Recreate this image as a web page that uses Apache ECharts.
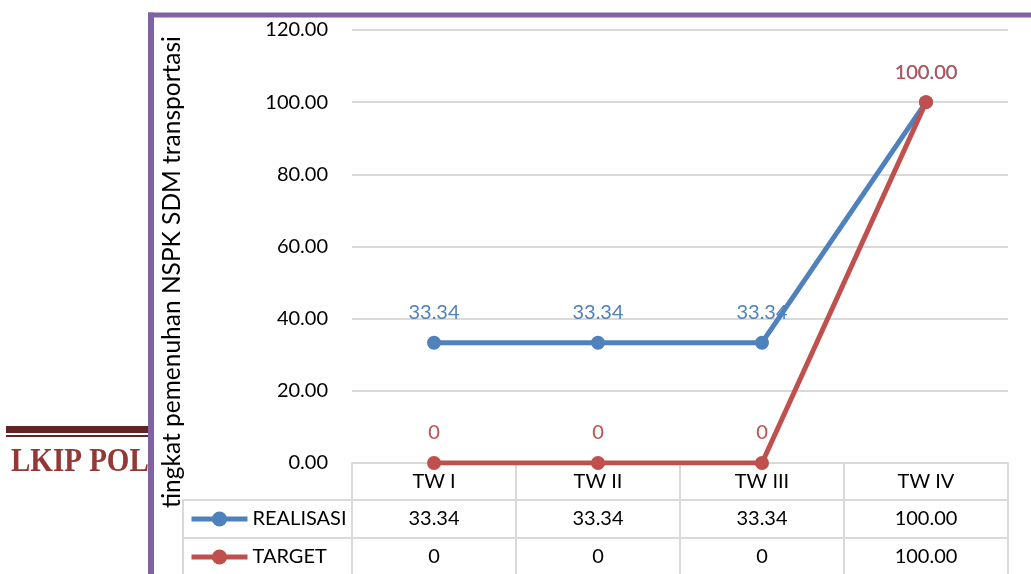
<!DOCTYPE html>
<html>
<head>
    <meta charset="UTF-8">
    <title>NSPK SDM transportasi</title>
    <script src="https://cdn.jsdelivr.net/npm/echarts@6/dist/echarts.min.js"></script>
    <style>
        html, body { margin: 0; padding: 0; background: #fff; }
    </style>
</head>
<body>
<div id="chart" style="width:1031px; height:574px;"></div>
<script>
    // data
    var categories = ['TW I', 'TW II', 'TW III', 'TW IV'];
    var realisasi = [33.34, 33.34, 33.34, 100];
    var target = [0, 0, 0, 100];
    var seriesNames = ['REALISASI', 'TARGET'];
    var yTicks = {min: 0, max: 120, interval: 20};

    var blue = '#4f81bd', red = '#c0504d', gridColor = '#d9d9d9';
    var font = 'Lato';

    function fmt(v) {
        return v === 0 ? '0' : v.toFixed(2);
    }

    var chart = echarts.init(document.getElementById('chart'), null, {renderer: 'canvas'});

    // one x axis per table row: header, realisasi, target
    function rowAxis(offset, formatter) {
        return {
            type: 'category',
            data: categories,
            position: 'bottom',
            offset: offset,
            boundaryGap: true,
            axisLine: {show: true, lineStyle: {color: gridColor, width: 2}},
            axisTick: {show: true, length: 37, interval: 0, lineStyle: {color: gridColor, width: 2}},
            axisLabel: {
                interval: 0, margin: 9, color: '#000', fontFamily: font, fontSize: 20,
                formatter: formatter
            },
            splitLine: {show: false}
        };
    }

    function lineSeries(name, data, color) {
        return {
            name: name,
            type: 'line',
            data: data,
            symbol: 'circle',
            symbolSize: 14,
            lineStyle: {color: color, width: 5},
            itemStyle: {color: color},
            label: {
                show: true, position: 'top', distance: 13,
                color: color, fontFamily: font, fontSize: 20,
                formatter: function (p) { return fmt(p.value); }
            }
        };
    }

    var option = {
        animation: false,
        textStyle: {fontFamily: font},
        grid: {left: 352, right: 23, top: 30, bottom: 111, containLabel: false, outerBoundsMode: 'none'},
        xAxis: [
            rowAxis(0, null),
            rowAxis(37, function (v, i) { return fmt(realisasi[i]); }),
            rowAxis(75, function (v, i) { return fmt(target[i]); })
        ],
        yAxis: {
            type: 'value',
            min: yTicks.min, max: yTicks.max, interval: yTicks.interval,
            axisLine: {show: false},
            axisTick: {show: false},
            axisLabel: {
                margin: 24, color: '#000', fontFamily: font, fontSize: 20,
                formatter: function (v) { return v.toFixed(2); }
            },
            splitLine: {lineStyle: {color: gridColor, width: 2}}
        },
        legend: {
            orient: 'vertical',
            left: 189, top: 509, height: 70,
            padding: 0,
            itemWidth: 56, itemHeight: 19, itemGap: 18,
            lineStyle: {width: 5},
            textStyle: {color: '#000', fontFamily: font, fontSize: 20, lineHeight: 20},
            data: seriesNames
        },
        series: [
            lineSeries(seriesNames[0], realisasi, blue),
            lineSeries(seriesNames[1], target, red)
        ],
        graphic: [
            // legend cells of the data table
            {type: 'rect', shape: {x: 183, y: 500, width: 169, height: 76},
                style: {fill: null, stroke: gridColor, lineWidth: 2}},
            {type: 'line', shape: {x1: 183, y1: 538, x2: 352, y2: 538},
                style: {stroke: gridColor, lineWidth: 2}},
            // axis title
            {type: 'text', x: 172, y: 272, rotation: Math.PI / 2,
                style: {text: 'tingkat pemenuhan NSPK SDM transportasi', fontFamily: font, fontSize: 24.5,
                    fill: '#000', align: 'center', verticalAlign: 'middle'}},
            // page header bits on the left
            {type: 'rect', shape: {x: 6, y: 426, width: 142, height: 7}, style: {fill: '#632523'}},
            {type: 'rect', shape: {x: 6, y: 435, width: 142, height: 2}, style: {fill: '#632523'}},
            {type: 'text', x: 11, y: 479, scaleY: 1.15,
                style: {text: 'LKIP POL', fontFamily: 'Liberation Serif', fontWeight: 'bold', fontSize: 29,
                    fill: '#953735', verticalAlign: 'bottom'}},
            // purple frame
            {type: 'rect', shape: {x: 148, y: 12.5, width: 883, height: 5}, style: {fill: '#8064a2'}, z: 10},
            {type: 'rect', shape: {x: 148, y: 12.5, width: 6, height: 562}, style: {fill: '#8064a2'}, z: 10}
        ]
    };

    chart.setOption(option);
</script>
</body>
</html>
